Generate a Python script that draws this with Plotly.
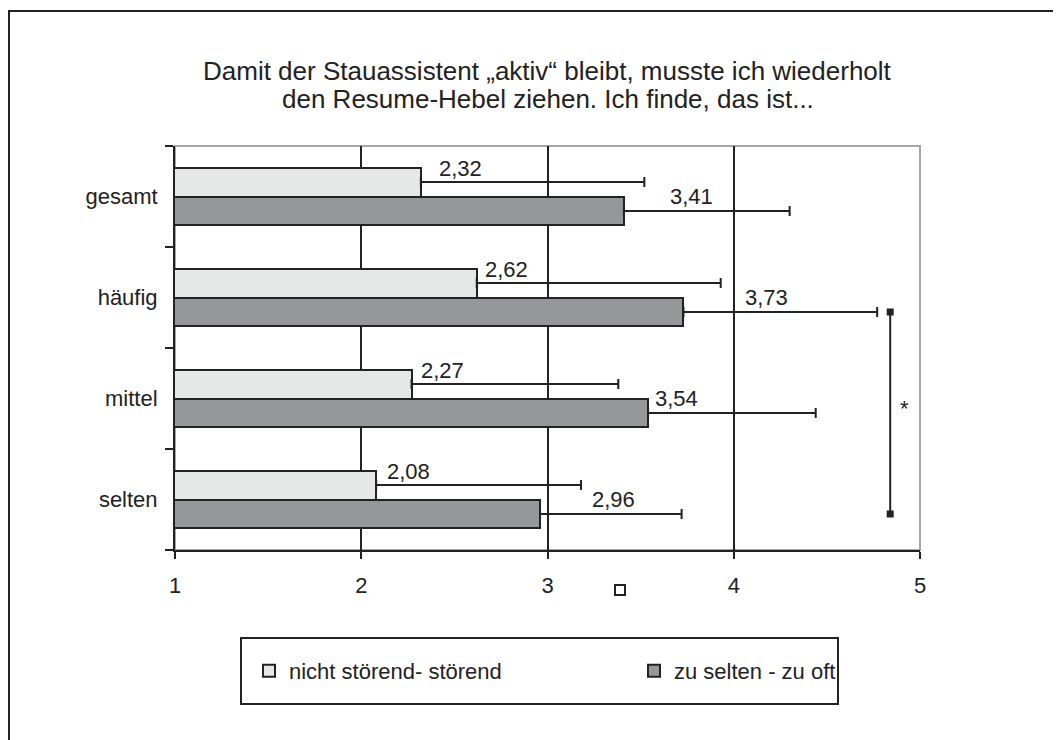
import plotly.graph_objects as go

# ---------------- data ----------------
categories = ["gesamt", "häufig", "mittel", "selten"]
stoerend = [2.32, 2.62, 2.27, 2.08]          # nicht störend - störend
stoerend_err = [1.20, 1.31, 1.11, 1.10]
haeufigkeit = [3.41, 3.73, 3.54, 2.96]       # zu selten - zu oft
haeufigkeit_err = [0.89, 1.04, 0.90, 0.76]
series_names = ["nicht störend- störend", "zu selten - zu oft"]
x_ticks = [1, 2, 3, 4, 5]
sig_pair = ["häufig", "selten"]
sig_label = "*"
title_lines = ["Damit der Stauassistent „aktiv“ bleibt, musste ich wiederholt",
               "den Resume-Hebel ziehen. Ich finde, das ist..."]

# ---------------- layout constants ----------------
W, H = 1061, 740
OFF = 8                                      # browser body margin
PL, PR, PT, PB = 175, 920, 146, 550          # plot area in page px
FONT = "Liberation Sans, Arial, sans-serif"
INK = "#222222"
LIGHT = "#E6E8E8"
DARK = "#96979A"
BAR_W = 0.287
light_label_dx = [16, 6, 7, 9]
dark_label_dx = [44, 60, 5, 50]


def px_x(p):
    return (p - PL) / (PR - PL)


def px_y(p):
    return (PB - p) / (PB - PT)


n = len(categories)
pos = [n - 1 - i for i in range(n)]
y_light = [p + BAR_W / 2 for p in pos]
y_dark = [p - BAR_W / 2 for p in pos]

fig = go.Figure()
fig.add_trace(go.Bar(
    x=stoerend, y=y_light, orientation="h", width=BAR_W, name=series_names[0],
    marker=dict(color=LIGHT, line=dict(color=INK, width=2)), legend="legend",
    error_x=dict(type="data", array=stoerend_err, arrayminus=[0] * n, symmetric=False,
                 color=INK, thickness=2, width=5),
))
fig.add_trace(go.Bar(
    x=haeufigkeit, y=y_dark, orientation="h", width=BAR_W, name=series_names[1],
    marker=dict(color=DARK, line=dict(color=INK, width=2)), legend="legend2",
    error_x=dict(type="data", array=haeufigkeit_err, arrayminus=[0] * n, symmetric=False,
                 color=INK, thickness=2, width=5),
))

# significance bracket between two groups (dark series)
i0, i1 = categories.index(sig_pair[0]), categories.index(sig_pair[1])
sig_x = 4.84
fig.add_trace(go.Scatter(
    x=[sig_x, sig_x], y=[y_dark[i0], y_dark[i1]], mode="lines+markers",
    line=dict(color=INK, width=2), marker=dict(symbol="square", size=7, color=INK),
    showlegend=False, hoverinfo="skip", cliponaxis=False,
))

LBL = 22
annotations = []
for i in range(n):
    annotations.append(dict(x=stoerend[i], y=y_light[i], xref="x", yref="y",
                            text=f"{stoerend[i]:.2f}".replace(".", ","), showarrow=False,
                            xanchor="left", yanchor="middle", xshift=light_label_dx[i], yshift=14,
                            font=dict(family=FONT, size=LBL, color=INK)))
    annotations.append(dict(x=haeufigkeit[i], y=y_dark[i], xref="x", yref="y",
                            text=f"{haeufigkeit[i]:.2f}".replace(".", ","), showarrow=False,
                            xanchor="left", yanchor="middle", xshift=dark_label_dx[i], yshift=14,
                            font=dict(family=FONT, size=LBL, color=INK)))
annotations.append(dict(x=sig_x, y=(y_dark[i0] + y_dark[i1]) / 2, xref="x", yref="y",
                        text=sig_label, showarrow=False, xanchor="left", yanchor="middle",
                        xshift=8, yshift=4, font=dict(family=FONT, size=LBL, color=INK)))
for line, yc in zip(title_lines, [71, 99]):
    annotations.append(dict(x=0.5, y=px_y(yc), xref="paper", yref="paper", text=line,
                            showarrow=False, xanchor="center", yanchor="middle",
                            font=dict(family=FONT, size=26, color=INK)))

shapes = [
    # outer frame (extends past right/bottom edges)
    dict(type="rect", xref="paper", yref="paper", x0=px_x(9), x1=px_x(W + 40),
         y0=px_y(H + 40), y1=px_y(11), line=dict(color=INK, width=2), layer="below"),
    # plot area border (grey top/right)
    dict(type="rect", xref="paper", yref="paper", x0=0, x1=1, y0=0, y1=1,
         line=dict(color="#A6A6A6", width=2), layer="below"),
    # legend box
    dict(type="rect", xref="paper", yref="paper", x0=px_x(241), x1=px_x(838),
         y0=px_y(704), y1=px_y(638), line=dict(color=INK, width=2), layer="below"),
    # small stray marker below axis
    dict(type="rect", xref="paper", yref="paper", x0=px_x(615), x1=px_x(625),
         y0=px_y(595), y1=px_y(585), line=dict(color=INK, width=2), layer="above"),
]

legend_common = dict(orientation="h", xanchor="left", yanchor="top",
                     bgcolor="rgba(0,0,0,0)", borderwidth=0,
                     font=dict(family=FONT, size=LBL, color=INK))

fig.update_layout(
    width=W, height=H,
    margin=dict(l=PL - OFF, r=W - (PR - OFF), t=PT - OFF, b=H - (PB - OFF), pad=0),
    paper_bgcolor="white", plot_bgcolor="white",
    barmode="overlay", bargap=0,
    font=dict(family=FONT, size=LBL, color=INK),
    showlegend=True,
    legend=dict(x=px_x(249), y=px_y(650), **legend_common),
    legend2=dict(x=px_x(634), y=px_y(650), **legend_common),
    annotations=annotations,
    shapes=shapes,
    xaxis=dict(range=[1, 5], tickvals=x_ticks, ticktext=[str(t) for t in x_ticks],
               showgrid=False, zeroline=False, showline=True, linecolor=INK, linewidth=2,
               ticks="outside", ticklen=7, tickwidth=2, tickcolor=INK,
               tickfont=dict(family=FONT, size=LBL, color=INK), ticklabelstandoff=8,
               minor=dict(tickvals=[2, 3, 4], showgrid=True, gridcolor=INK, gridwidth=2, ticks=""),
               fixedrange=True),
    yaxis=dict(range=[-0.5, n - 0.5], tickvals=pos, ticktext=categories,
               showgrid=False, zeroline=False, showline=True, linecolor=INK, linewidth=2,
               ticks="", tickfont=dict(family=FONT, size=LBL, color=INK), ticklabelstandoff=11,
               minor=dict(tickvals=[p - 0.5 for p in range(n + 1)], ticks="outside",
                          ticklen=8, tickwidth=2, tickcolor=INK, showgrid=False),
               fixedrange=True),
)

fig.write_html("out.html")
